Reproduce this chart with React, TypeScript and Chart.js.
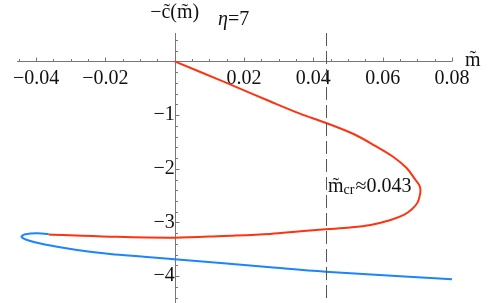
import React, { useEffect, useRef } from "react";
import { Chart, registerables } from "chart.js";
Chart.register(...registerables);

// Red branch (x = m̃, y = −c̃)
const redX = [0, 0.0141, 0.0276, 0.0363, 0.0435, 0.0516, 0.0579, 0.0631, 0.0669, 0.0695, 0.0706, 0.0709, 0.0707, 0.07, 0.0685, 0.0661, 0.0623, 0.0565, 0.0507, 0.0435, 0.0363, 0.0276, 0.0141, 0, -0.0186, -0.0364];
const redY = [0, -0.378, -0.747, -0.978, -1.142, -1.352, -1.575, -1.78, -1.985, -2.209, -2.31, -2.4, -2.5, -2.635, -2.75, -2.86, -2.953, -3.046, -3.093, -3.127, -3.164, -3.214, -3.251, -3.283, -3.264, -3.223];
// Blue branch
const blueX = [-0.0364, -0.0397, -0.0431, -0.0442, -0.0426, -0.0378, -0.0282, -0.0186, -0.0089, 0, 0.0141, 0.0276, 0.0435, 0.0651, 0.08];
const blueY = [-3.214, -3.201, -3.22, -3.264, -3.326, -3.406, -3.512, -3.587, -3.637, -3.685, -3.76, -3.834, -3.916, -4.0, -4.058];

const xTickValues = [-0.04, -0.02, 0.02, 0.04, 0.06, 0.08];
const yTickValues = [-4, -3, -2, -1];
const critX = 0.0438;
const critLabel = "0.043";
const xMin = -0.0455, xMax = 0.08, yMin = -4.5, yMax = 0.529;

const FONT = "'Liberation Serif', 'Times New Roman', 'DejaVu Serif', serif";

const fmt = (v: number, d: number) => {
  const r = Number(v.toFixed(d));
  if (r === 0) return "";
  return (r < 0 ? "\u2212" : "") + Math.abs(r).toFixed(d);
};

const mmaPlugin = {
  id: "mmaAxes",
  beforeDatasetsDraw(chart: any) {
    const { ctx, chartArea, scales } = chart;
    const xs = scales.x, ys = scales.y;
    const x0 = Math.round(xs.getPixelForValue(0)) + 0.5;
    const y0 = Math.round(ys.getPixelForValue(0)) + 0.5;
    ctx.save();
    ctx.strokeStyle = "#777";
    ctx.lineWidth = 1;
    const ln = (a: number, b: number, c: number, d: number) => {
      ctx.beginPath(); ctx.moveTo(a, b); ctx.lineTo(c, d); ctx.stroke();
    };
    ln(chartArea.left, y0, chartArea.right, y0);
    ln(x0, chartArea.top, x0, chartArea.bottom);
    for (let i = Math.ceil(xs.min / 0.005 - 1e-6); i * 0.005 <= xs.max + 1e-9; i++) {
      if (i === 0) continue;
      const px = Math.round(xs.getPixelForValue(i * 0.005)) + 0.5;
      ln(px, y0, px, y0 - (i % 4 === 0 ? 4 : 2.5));
    }
    for (let i = Math.ceil(ys.min / 0.2 - 1e-6); i * 0.2 <= ys.max + 1e-9; i++) {
      if (i === 0) continue;
      const py = Math.round(ys.getPixelForValue(i * 0.2)) + 0.5;
      ln(x0, py, x0 + (i % 5 === 0 ? 4 : 2.5), py);
    }
    ctx.restore();
  },
  afterDraw(chart: any) {
    const { ctx, scales } = chart;
    const xs = scales.x, ys = scales.y;
    const x0 = xs.getPixelForValue(0);
    const y0 = ys.getPixelForValue(0);
    ctx.save();
    ctx.fillStyle = "#111";
    ctx.textBaseline = "middle";
    ctx.font = `20px ${FONT}`;
    ctx.textAlign = "center";
    ctx.fillText("\u2212c\u0303(m\u0303)", x0, 13);
    ctx.textAlign = "left";
    ctx.font = `italic 20px ${FONT}`;
    ctx.fillText("\u03B7", 218, 20);
    const w = ctx.measureText("\u03B7").width;
    ctx.font = `20px ${FONT}`;
    ctx.fillText("=7", 218 + w, 20);
    // x axis label
    ctx.fillText("m\u0303", xs.right + 13, y0 - 1);
    // critical label
    const cx = xs.getPixelForValue(critX) + 1.5;
    const by = 192;
    ctx.textBaseline = "alphabetic";
    ctx.font = `20px ${FONT}`;
    ctx.fillText("m\u0303", cx, by);
    let off = ctx.measureText("m\u0303").width;
    ctx.font = `14px ${FONT}`;
    ctx.fillText("cr", cx + off, by + 2);
    off += ctx.measureText("cr").width + 1;
    ctx.font = `20px ${FONT}`;
    ctx.fillText("\u2248" + critLabel, cx + off, by);
    ctx.restore();
  },
};

const zeroPad = (s: any) => {
  s.paddingLeft = 0; s.paddingRight = 0; s.paddingTop = 0; s.paddingBottom = 0;
};

export default function App() {
  const ref = useRef<HTMLCanvasElement>(null);
  useEffect(() => {
    const red = redX.map((x, i) => ({ x, y: redY[i] }));
    const blue = blueX.map((x, i) => ({ x, y: blueY[i] }));
    const chart = new Chart(ref.current!, {
      type: "scatter",
      data: {
        datasets: [
          {
            data: [{ x: critX, y: yMax }, { x: critX, y: yMin }],
            showLine: true, borderColor: "#555", borderWidth: 1, borderDash: [13, 5],
            pointRadius: 0, tension: 0,
          },
          {
            data: blue, showLine: true, borderColor: "#1A85FF", borderWidth: 2,
            pointRadius: 0, tension: 0.35,
          },
          {
            data: red, showLine: true, borderColor: "#FF3311", borderWidth: 2,
            pointRadius: 0, tension: 0.35,
          },
        ],
      },
      options: {
        responsive: false,
        animation: false,
        devicePixelRatio: 1,
        layout: { padding: { left: 17, right: 39, top: 33, bottom: 0 } },
        plugins: { legend: { display: false }, tooltip: { enabled: false }, title: { display: false } },
        scales: {
          x: {
            type: "linear", min: xMin, max: xMax, position: { y: 0 } as any,
            grid: { display: false, drawTicks: false }, border: { display: false },
            afterBuildTicks: (s: any) => { s.ticks = xTickValues.map((v) => ({ value: v })); },
            afterFit: zeroPad,
            ticks: {
              padding: 5, color: "#111", maxRotation: 0, autoSkip: false,
              font: { family: FONT, size: 20 },
              callback: (v: any) => fmt(Number(v), 2),
            },
          },
          y: {
            type: "linear", min: yMin, max: yMax, position: { x: 0 } as any,
            grid: { display: false, drawTicks: false }, border: { display: false },
            afterBuildTicks: (s: any) => { s.ticks = yTickValues.map((v) => ({ value: v })); },
            afterFit: zeroPad,
            ticks: {
              padding: 9, color: "#111", autoSkip: false,
              font: { family: FONT, size: 20 },
              callback: (v: any) => fmt(Number(v), 0),
            },
          },
        },
      },
      plugins: [mmaPlugin],
    });
    return () => chart.destroy();
  }, []);
  return (
    <div style={{ position: "fixed", left: 0, top: 0, width: 491, height: 303, background: "#fff" }}>
      <canvas ref={ref} width={491} height={303} />
    </div>
  );
}
